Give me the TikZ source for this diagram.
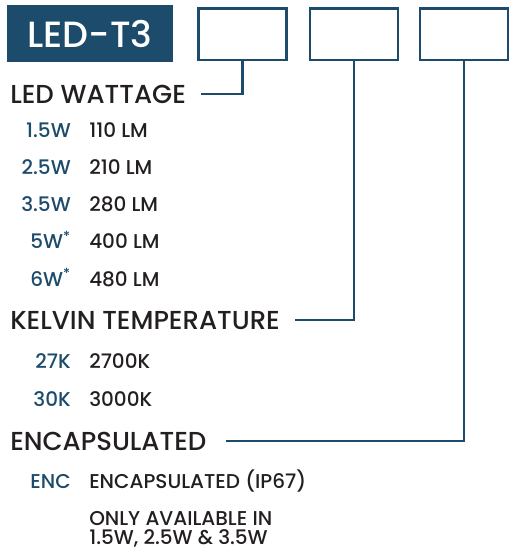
\documentclass[tikz,border=0pt]{standalone}
\usepackage{fontspec}
\setmainfont{Poppins Medium}
\definecolor{ledblue}{HTML}{1D4B6C}
\definecolor{ledblack}{HTML}{231F20}
\def\rowsep{37.3}

\begin{document}
\begin{tikzpicture}[x=1pt,y=-1pt,line width=2.5pt,draw=ledblue]
    \tikzstyle{every node}=[inner sep=0pt]
    \tikzstyle{codebox}=[draw=ledblue,line width=2.5pt,minimum width=88pt,minimum height=51.5pt]
    \tikzstyle{heading}=[anchor=base west,text=ledblack,font=\fontsize{26}{26}\selectfont]
    \tikzstyle{code}=[anchor=base east,text=ledblue,font=\fontsize{20}{20}\selectfont]
    \tikzstyle{descr}=[anchor=base west,text=ledblack,font=\fontsize{20}{20}\selectfont]

    \useasboundingbox (0,0) rectangle (509,550);

    % Draw the part number and the empty option boxes
    \node[fill=ledblue,minimum width=166pt,minimum height=57pt,text=white,
          font=\fontsize{36.5}{36.5}\selectfont] (part) at (90,33.5) {LED-T3\hspace{7pt}};
    \foreach \name / \x in {1/242.5,2/354,3/464}
        \node[codebox] (B-\name) at (\x,34) {};

    % Draw the headings
    \node[heading] (wattage) at (9,103) {LED WATTAGE};
    \node[heading] (kelvin) at (9,329) {KELVIN TEMPERATURE};
    \node[heading] (encaps) at (9,450) {ENCAPSULATED};

    % Draw the wattage rows
    \foreach \watt / \lm [count=\i] in {1.5W/110 LM,2.5W/210 LM,3.5W/280 LM,
            5W\textsuperscript{*}/400 LM,6W\textsuperscript{*}/480 LM}
    {
        \node[code] (W-\i) at (72,137+\i*\rowsep-\rowsep) {\watt};
        \node[descr] (L-\i) at (88,137+\i*\rowsep-\rowsep) {\lm};
    }

    % Draw the kelvin rows
    \foreach \kel / \temp [count=\i] in {27K/2700K,30K/3000K}
    {
        \node[code] (K-\i) at (72,368+\i*38-38) {\kel};
        \node[descr] (T-\i) at (88,368+\i*38-38) {\temp};
    }

    % Draw the encapsulated row and its note
    \node[code] (E-1) at (72,488) {ENC};
    \node[descr] (D-1) at (88,488) {ENCAPSULATED (IP67)};
    \node[descr] (note-1) at (88,525) {ONLY AVAILABLE IN};
    \node[descr] (note-2) at (88,544) {1.5W, 2.5W \& 3.5W};

    % Connect every option box with its heading
    \draw[shorten >=14pt] (B-1.south) |- (wattage.east);
    \draw[shorten >=14pt] (B-2.south) |- (kelvin.east);
    \draw[shorten >=18pt] (B-3.south) |- (encaps.east);
\end{tikzpicture}
\end{document}
